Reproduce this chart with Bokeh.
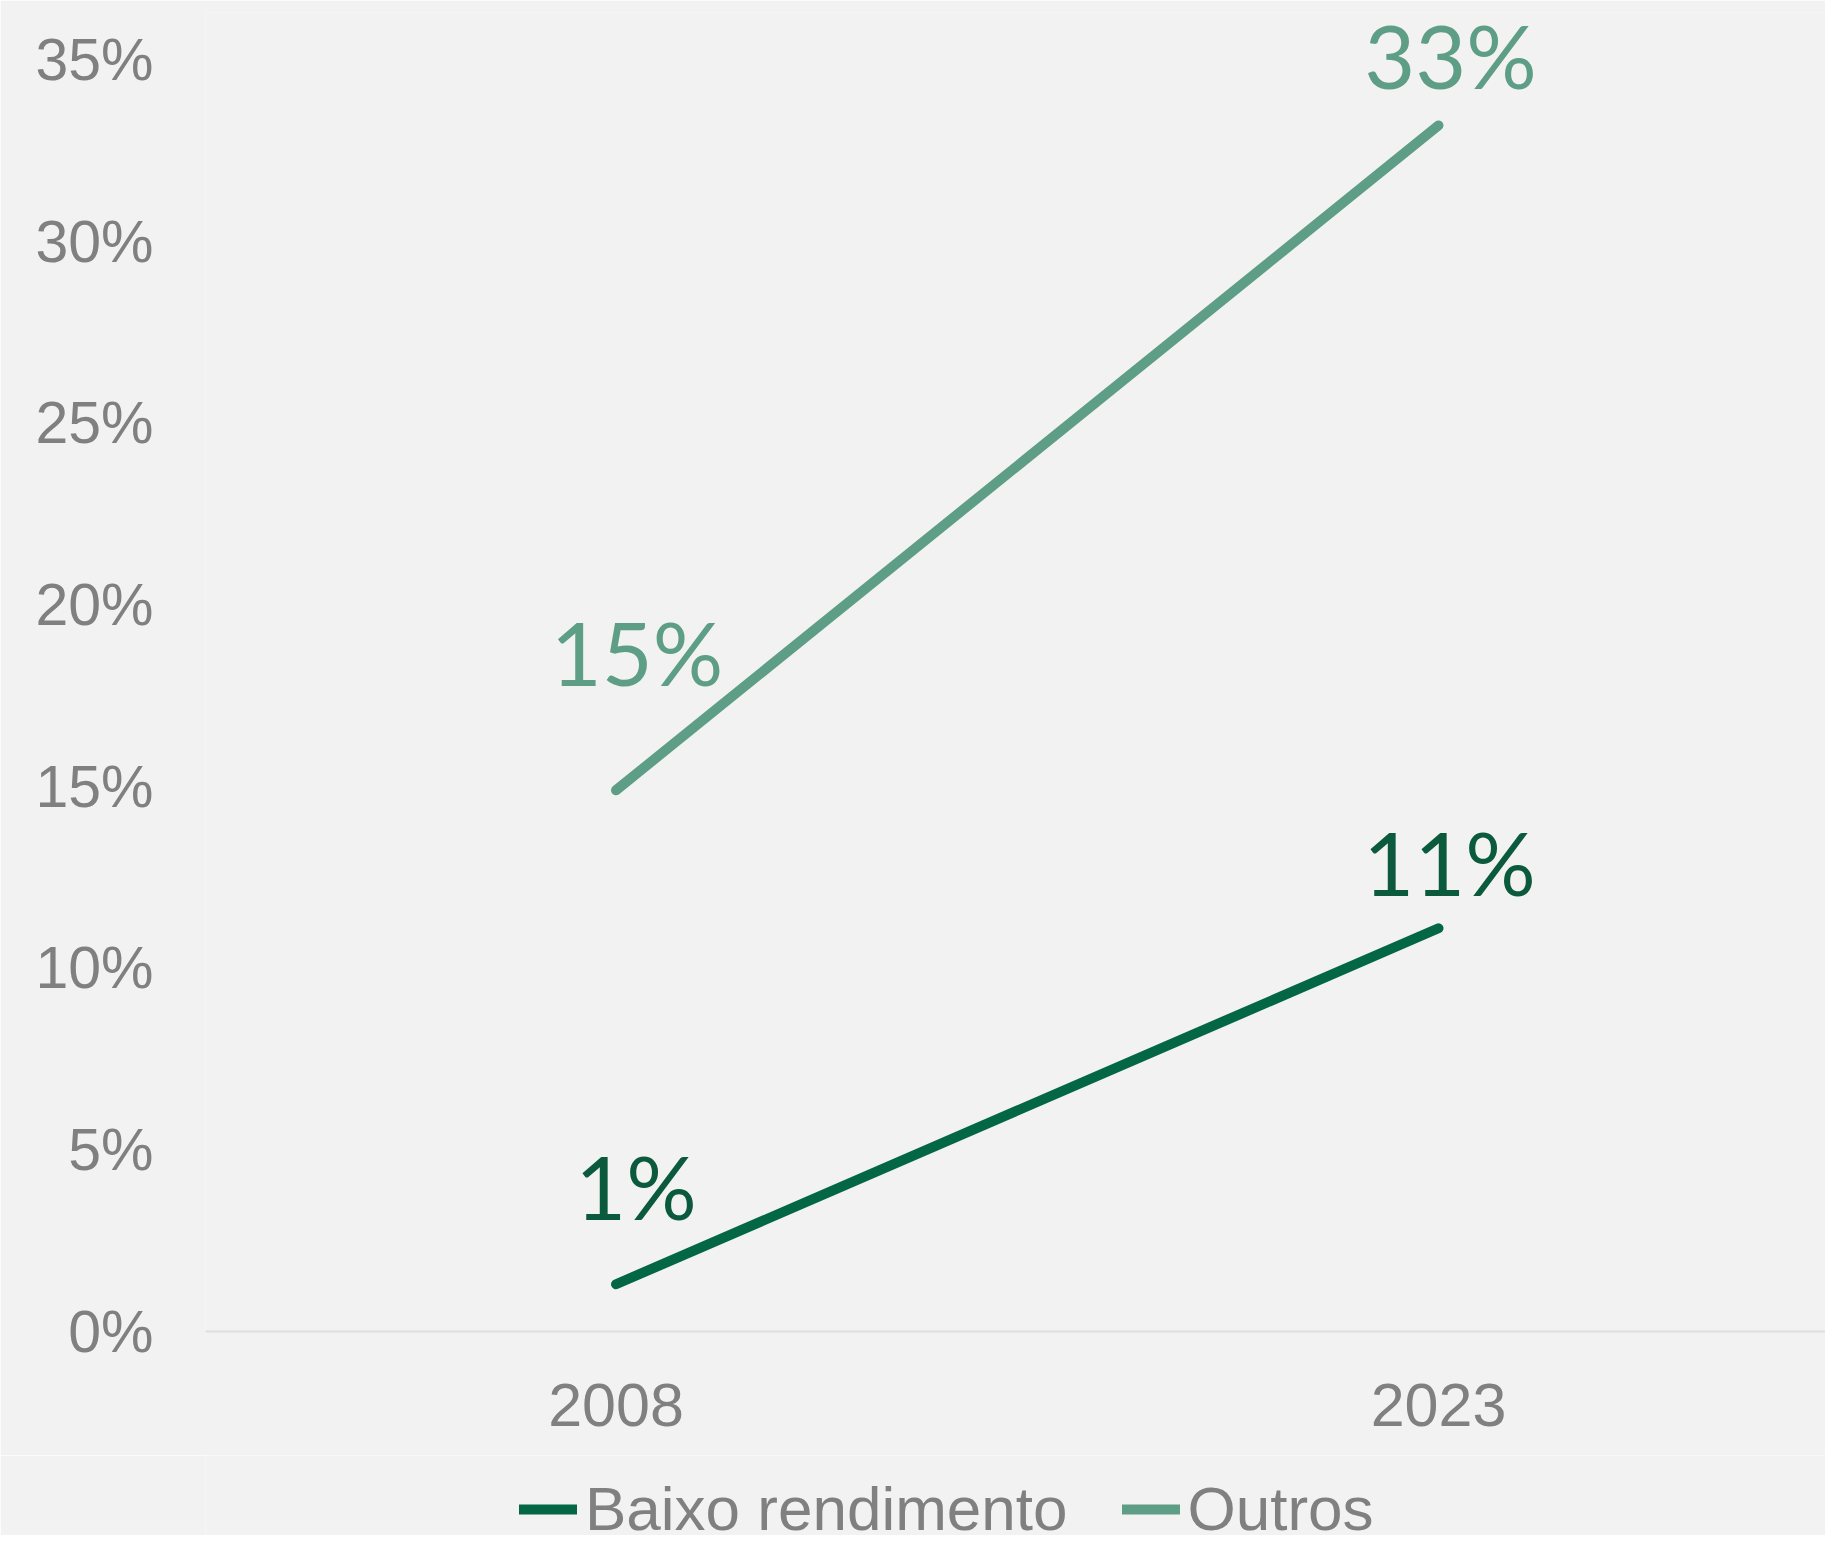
from bokeh.plotting import figure
from bokeh.layouts import column
from bokeh.models import (ColumnDataSource, FixedTicker, PrintfTickFormatter, Legend,
                          LegendItem, Label, Range1d)
from bokeh.embed import file_html
from bokeh.resources import INLINE

# ---- data ----
years = [2008, 2023]
baixo_rendimento = [1.3, 11.1]
outros = [14.9, 33.2]
baixo_labels = ["1%", "11%"]
outros_labels = ["15%", "33%"]
y_ticks = [0, 5, 10, 15, 20, 25, 30, 35]
series_names = ["Baixo rendimento", "Outros"]

# ---- style ----
BG = "#f2f2f2"
C_BAIXO = "#036746"
C_BAIXO_TXT = "#0b5a3e"
C_OUTROS = "#5e9e86"
TICK_C = "#808080"
AX_FONT = "Liberation Sans"
LBL_FONT = "Lato"

p = figure(width=1825, height=1455, output_backend="svg", toolbar_location=None,
           x_range=Range1d(2000.513, 2030.058), y_range=Range1d(0, 36.31),
           min_border_left=205, min_border_right=0, min_border_top=12,
           min_border_bottom=124)
p.background_fill_color = BG
p.border_fill_color = BG
p.outline_line_color = None
p.xgrid.visible = False
p.ygrid.visible = False

src = ColumnDataSource(dict(x=years, b=baixo_rendimento, o=outros))
p.line("x", "b", source=src, line_color=C_BAIXO, line_width=10, line_cap="round")
p.line("x", "o", source=src, line_color=C_OUTROS, line_width=10, line_cap="round")

# y axis
p.yaxis.ticker = FixedTicker(ticks=y_ticks)
p.yaxis.formatter = PrintfTickFormatter(format="%d%%")
p.yaxis.axis_line_color = None
p.yaxis.major_tick_line_color = None
p.yaxis.minor_tick_line_color = None
p.yaxis.major_tick_out = 0
p.yaxis.major_tick_in = 0
p.yaxis.major_label_standoff = 52
p.yaxis.major_label_text_font = AX_FONT
p.yaxis.major_label_text_font_size = "59px"
p.yaxis.major_label_text_color = TICK_C

# x axis
p.xaxis.ticker = FixedTicker(ticks=years)
p.xaxis.axis_line_color = "#dedede"
p.xaxis.axis_line_width = 2
p.xaxis.major_tick_line_color = None
p.xaxis.minor_tick_line_color = None
p.xaxis.major_tick_out = 0
p.xaxis.major_tick_in = 0
p.xaxis.major_label_standoff = 52
p.xaxis.major_label_text_font = AX_FONT
p.xaxis.major_label_text_font_size = "61px"
p.xaxis.major_label_text_color = TICK_C

# data labels
label_offsets_b = [(20, 98), (11, 66)]
label_offsets_o = [(21, 138), (12, 70)]
for xv, yv, t, (dx, dy) in zip(years, baixo_rendimento, baixo_labels, label_offsets_b):
    p.add_layout(Label(x=xv, y=yv, text=t, x_offset=dx, y_offset=dy,
                       text_align="center", text_baseline="alphabetic",
                       text_font=LBL_FONT, text_font_size="88px", text_color=C_BAIXO_TXT))
for xv, yv, t, (dx, dy) in zip(years, outros, outros_labels, label_offsets_o):
    p.add_layout(Label(x=xv, y=yv, text=t, x_offset=dx, y_offset=dy,
                       text_align="center", text_baseline="alphabetic",
                       text_font=LBL_FONT, text_font_size="88px", text_color=C_OUTROS))

# ---- legend strip (separate figure so it is not clipped by the main frame) ----
lg = figure(width=1825, height=80, output_backend="svg", toolbar_location=None,
            x_range=Range1d(0, 1), y_range=Range1d(0, 1),
            x_axis_type=None, y_axis_type=None,
            min_border_left=0, min_border_right=0, min_border_top=0, min_border_bottom=0)
lg.background_fill_color = BG
lg.border_fill_color = BG
lg.outline_line_color = None
lg.xgrid.visible = False
lg.ygrid.visible = False
# same series, outside this strip's visible range: only their legend swatches show
lb = lg.line("x", "b", source=src, line_color=C_BAIXO, line_width=10, line_cap="round")
lo = lg.line("x", "o", source=src, line_color=C_OUTROS, line_width=10, line_cap="round")
legend = Legend(items=[LegendItem(label=series_names[0], renderers=[lb]),
                       LegendItem(label=series_names[1], renderers=[lo])],
                orientation="horizontal", location=(314, -9),
                label_text_font=AX_FONT, label_text_font_size="62px",
                label_text_color=TICK_C, glyph_width=58, glyph_height=20,
                label_height=20, label_standoff=8, spacing=54, padding=0, margin=0,
                background_fill_alpha=0, border_line_color=None)
lg.add_layout(legend, "center")

layout = column(p, lg, spacing=0)
open("out.html", "w").write(file_html(layout, INLINE))
